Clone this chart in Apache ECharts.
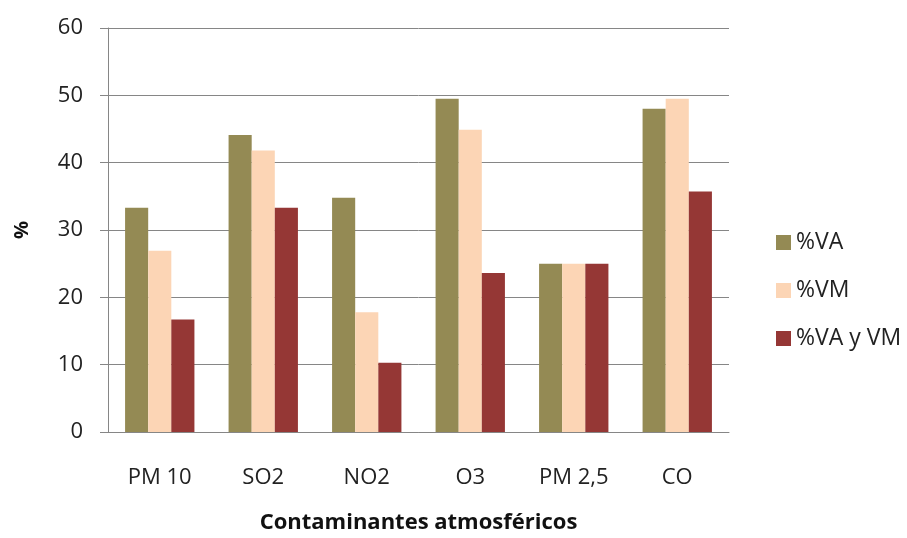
<!DOCTYPE html>
<html><head><meta charset="utf-8">
<script src="https://cdn.jsdelivr.net/npm/echarts@6/dist/echarts.min.js"></script>
<style>html,body{margin:0;padding:0;background:#fff}#c{width:907px;height:538px}</style>
</head><body><div id="c"></div>
<script>
const categories = ['PM 10', 'SO2', 'NO2', 'O3', 'PM 2,5', 'CO'];
const seriesNames = ['%VA', '%VM', '%VA y VM'];
const va = [33.3, 44.1, 34.8, 49.5, 25, 48];
const vm = [26.9, 41.8, 17.8, 44.9, 25, 49.5];
const vavm = [16.7, 33.3, 10.3, 23.6, 25, 35.7];
const yTicks = [0, 10, 20, 30, 40, 50, 60];
const colors = ['#948A54', '#FCD5B5', '#953735'];
const font = '"Open Sans", "Noto Sans", sans-serif';

const chart = echarts.init(document.getElementById('c'), null, {renderer: 'canvas'});
const values = [va, vm, vavm];
chart.setOption({
  animation: false,
  textStyle: {fontFamily: font},
  grid: {left: 108, right: 178, top: 28, bottom: 106, containLabel: false, outerBoundsMode: 'none'},
  legend: {
    orient: 'vertical', left: 771, top: 226, itemGap: 24,
    itemWidth: 15, itemHeight: 15, icon: 'rect', itemGap: 25,
    textStyle: {fontSize: 23, color: '#222', fontFamily: font},
    data: seriesNames
  },
  xAxis: {
    type: 'category', data: categories,
    axisLine: {lineStyle: {color: '#868686', width: 1}},
    axisTick: {show: false},
    axisLabel: {fontSize: 22, color: '#222', margin: 35, fontFamily: font},
    name: 'Contaminantes atmosféricos', nameLocation: 'middle', nameGap: 80,
    nameTextStyle: {fontSize: 22, fontWeight: 'bold', color: '#111', fontFamily: font}
  },
  yAxis: {
    type: 'value', min: yTicks[0], max: yTicks[yTicks.length - 1], interval: 10,
    axisLine: {show: true, lineStyle: {color: '#868686'}},
    axisTick: {show: true, inside: false, length: 8, lineStyle: {color: '#868686'}},
    axisLabel: {fontSize: 22, color: '#222', margin: 25, fontFamily: font},
    splitLine: {lineStyle: {color: '#868686', width: 1}},
    name: '%', nameLocation: 'middle', nameGap: 76, nameRotate: 90,
    nameTextStyle: {fontSize: 20, fontWeight: 'bold', color: '#111', fontFamily: font}
  },
  series: seriesNames.map((n, i) => ({
    name: n, type: 'bar', data: values[i],
    barGap: '0%', barCategoryGap: '33%',
    itemStyle: {color: colors[i]}
  }))
});
</script></body></html>
